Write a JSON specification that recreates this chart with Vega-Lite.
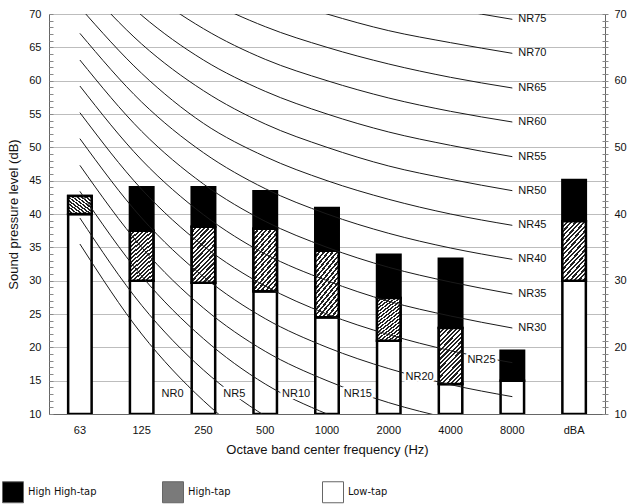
{
  "$schema": "https://vega.github.io/schema/vega-lite/v6.json",
  "width": 556,
  "height": 400,
  "autosize": {"type": "none"},
  "padding": {"left": 49, "top": 14, "right": 25, "bottom": 90},
  "background": "white",
  "config": {
    "font": "Liberation Sans",
    "view": {"stroke": null},
    "axis": {"labelFont": "Liberation Sans", "titleFont": "Liberation Sans", "labelColor": "#111111", "titleColor": "#111111"}
  },
  "datasets": {
    "bars": [
      {"band": "63", "tap": "Low-tap", "start": 10, "end": 40},
      {"band": "63", "tap": "High-tap", "start": 40, "end": 42.7},
      {"band": "125", "tap": "Low-tap", "start": 10, "end": 30},
      {"band": "125", "tap": "High-tap", "start": 30, "end": 37.5},
      {"band": "125", "tap": "High High-tap", "start": 37.5, "end": 44},
      {"band": "250", "tap": "Low-tap", "start": 10, "end": 29.7},
      {"band": "250", "tap": "High-tap", "start": 29.7, "end": 38.1},
      {"band": "250", "tap": "High High-tap", "start": 38.1, "end": 44},
      {"band": "500", "tap": "Low-tap", "start": 10, "end": 28.4},
      {"band": "500", "tap": "High-tap", "start": 28.4, "end": 37.8},
      {"band": "500", "tap": "High High-tap", "start": 37.8, "end": 43.4},
      {"band": "1000", "tap": "Low-tap", "start": 10, "end": 24.5},
      {"band": "1000", "tap": "High-tap", "start": 24.5, "end": 34.5},
      {"band": "1000", "tap": "High High-tap", "start": 34.5, "end": 40.9},
      {"band": "2000", "tap": "Low-tap", "start": 10, "end": 21},
      {"band": "2000", "tap": "High-tap", "start": 21, "end": 27.4},
      {"band": "2000", "tap": "High High-tap", "start": 27.4, "end": 33.9},
      {"band": "4000", "tap": "Low-tap", "start": 10, "end": 14.5},
      {"band": "4000", "tap": "High-tap", "start": 14.5, "end": 22.9},
      {"band": "4000", "tap": "High High-tap", "start": 22.9, "end": 33.3},
      {"band": "8000", "tap": "Low-tap", "start": 10, "end": 15},
      {"band": "8000", "tap": "High High-tap", "start": 15, "end": 19.5},
      {"band": "dBA", "tap": "Low-tap", "start": 10, "end": 30},
      {"band": "dBA", "tap": "High-tap", "start": 30, "end": 38.9},
      {"band": "dBA", "tap": "High High-tap", "start": 38.9, "end": 45.1}
    ],
    "nr": [
      {"nr": "NR0", "band": "63", "level": 35.5}, {"nr": "NR0", "band": "125", "level": 22.0}, {"nr": "NR0", "band": "250", "level": 12.0}, {"nr": "NR0", "band": "500", "level": 4.8}, {"nr": "NR0", "band": "1000", "level": 0.0}, {"nr": "NR0", "band": "2000", "level": -3.5}, {"nr": "NR0", "band": "4000", "level": -6.1}, {"nr": "NR0", "band": "8000", "level": -8.0},
      {"nr": "NR5", "band": "63", "level": 39.4}, {"nr": "NR5", "band": "125", "level": 26.3}, {"nr": "NR5", "band": "250", "level": 16.6}, {"nr": "NR5", "band": "500", "level": 9.7}, {"nr": "NR5", "band": "1000", "level": 5.0}, {"nr": "NR5", "band": "2000", "level": 1.6}, {"nr": "NR5", "band": "4000", "level": -1.0}, {"nr": "NR5", "band": "8000", "level": -2.8},
      {"nr": "NR10", "band": "63", "level": 43.4}, {"nr": "NR10", "band": "125", "level": 30.7}, {"nr": "NR10", "band": "250", "level": 21.3}, {"nr": "NR10", "band": "500", "level": 14.5}, {"nr": "NR10", "band": "1000", "level": 10.0}, {"nr": "NR10", "band": "2000", "level": 6.6}, {"nr": "NR10", "band": "4000", "level": 4.2}, {"nr": "NR10", "band": "8000", "level": 2.3},
      {"nr": "NR15", "band": "63", "level": 47.3}, {"nr": "NR15", "band": "125", "level": 35.0}, {"nr": "NR15", "band": "250", "level": 25.9}, {"nr": "NR15", "band": "500", "level": 19.4}, {"nr": "NR15", "band": "1000", "level": 15.0}, {"nr": "NR15", "band": "2000", "level": 11.7}, {"nr": "NR15", "band": "4000", "level": 9.3}, {"nr": "NR15", "band": "8000", "level": 7.4},
      {"nr": "NR20", "band": "63", "level": 51.3}, {"nr": "NR20", "band": "125", "level": 39.4}, {"nr": "NR20", "band": "250", "level": 30.6}, {"nr": "NR20", "band": "500", "level": 24.3}, {"nr": "NR20", "band": "1000", "level": 20.0}, {"nr": "NR20", "band": "2000", "level": 16.8}, {"nr": "NR20", "band": "4000", "level": 14.4}, {"nr": "NR20", "band": "8000", "level": 12.6},
      {"nr": "NR25", "band": "63", "level": 55.2}, {"nr": "NR25", "band": "125", "level": 43.7}, {"nr": "NR25", "band": "250", "level": 35.2}, {"nr": "NR25", "band": "500", "level": 29.2}, {"nr": "NR25", "band": "1000", "level": 25.0}, {"nr": "NR25", "band": "2000", "level": 21.9}, {"nr": "NR25", "band": "4000", "level": 19.5}, {"nr": "NR25", "band": "8000", "level": 17.7},
      {"nr": "NR30", "band": "63", "level": 59.2}, {"nr": "NR30", "band": "125", "level": 48.1}, {"nr": "NR30", "band": "250", "level": 39.9}, {"nr": "NR30", "band": "500", "level": 34.0}, {"nr": "NR30", "band": "1000", "level": 30.0}, {"nr": "NR30", "band": "2000", "level": 26.9}, {"nr": "NR30", "band": "4000", "level": 24.7}, {"nr": "NR30", "band": "8000", "level": 22.9},
      {"nr": "NR35", "band": "63", "level": 63.1}, {"nr": "NR35", "band": "125", "level": 52.4}, {"nr": "NR35", "band": "250", "level": 44.5}, {"nr": "NR35", "band": "500", "level": 38.9}, {"nr": "NR35", "band": "1000", "level": 35.0}, {"nr": "NR35", "band": "2000", "level": 32.0}, {"nr": "NR35", "band": "4000", "level": 29.8}, {"nr": "NR35", "band": "8000", "level": 28.0},
      {"nr": "NR40", "band": "63", "level": 67.1}, {"nr": "NR40", "band": "125", "level": 56.8}, {"nr": "NR40", "band": "250", "level": 49.2}, {"nr": "NR40", "band": "500", "level": 43.8}, {"nr": "NR40", "band": "1000", "level": 40.0}, {"nr": "NR40", "band": "2000", "level": 37.1}, {"nr": "NR40", "band": "4000", "level": 34.9}, {"nr": "NR40", "band": "8000", "level": 33.2},
      {"nr": "NR45", "band": "63", "level": 71.0}, {"nr": "NR45", "band": "125", "level": 61.1}, {"nr": "NR45", "band": "250", "level": 53.6}, {"nr": "NR45", "band": "500", "level": 48.6}, {"nr": "NR45", "band": "1000", "level": 45.0}, {"nr": "NR45", "band": "2000", "level": 42.2}, {"nr": "NR45", "band": "4000", "level": 40.0}, {"nr": "NR45", "band": "8000", "level": 38.3},
      {"nr": "NR50", "band": "63", "level": 75.0}, {"nr": "NR50", "band": "125", "level": 65.5}, {"nr": "NR50", "band": "250", "level": 58.5}, {"nr": "NR50", "band": "500", "level": 53.5}, {"nr": "NR50", "band": "1000", "level": 50.0}, {"nr": "NR50", "band": "2000", "level": 47.2}, {"nr": "NR50", "band": "4000", "level": 45.2}, {"nr": "NR50", "band": "8000", "level": 43.5},
      {"nr": "NR55", "band": "63", "level": 78.9}, {"nr": "NR55", "band": "125", "level": 69.8}, {"nr": "NR55", "band": "250", "level": 63.1}, {"nr": "NR55", "band": "500", "level": 58.4}, {"nr": "NR55", "band": "1000", "level": 55.0}, {"nr": "NR55", "band": "2000", "level": 52.3}, {"nr": "NR55", "band": "4000", "level": 50.3}, {"nr": "NR55", "band": "8000", "level": 48.6},
      {"nr": "NR60", "band": "63", "level": 82.9}, {"nr": "NR60", "band": "125", "level": 74.2}, {"nr": "NR60", "band": "250", "level": 67.8}, {"nr": "NR60", "band": "500", "level": 63.2}, {"nr": "NR60", "band": "1000", "level": 60.0}, {"nr": "NR60", "band": "2000", "level": 57.4}, {"nr": "NR60", "band": "4000", "level": 55.4}, {"nr": "NR60", "band": "8000", "level": 53.8},
      {"nr": "NR65", "band": "63", "level": 86.8}, {"nr": "NR65", "band": "125", "level": 78.5}, {"nr": "NR65", "band": "250", "level": 72.4}, {"nr": "NR65", "band": "500", "level": 68.1}, {"nr": "NR65", "band": "1000", "level": 65.0}, {"nr": "NR65", "band": "2000", "level": 62.5}, {"nr": "NR65", "band": "4000", "level": 60.5}, {"nr": "NR65", "band": "8000", "level": 58.9},
      {"nr": "NR70", "band": "63", "level": 90.8}, {"nr": "NR70", "band": "125", "level": 82.9}, {"nr": "NR70", "band": "250", "level": 77.1}, {"nr": "NR70", "band": "500", "level": 73.0}, {"nr": "NR70", "band": "1000", "level": 70.0}, {"nr": "NR70", "band": "2000", "level": 67.5}, {"nr": "NR70", "band": "4000", "level": 65.7}, {"nr": "NR70", "band": "8000", "level": 64.1},
      {"nr": "NR75", "band": "63", "level": 94.7}, {"nr": "NR75", "band": "125", "level": 87.2}, {"nr": "NR75", "band": "250", "level": 81.7}, {"nr": "NR75", "band": "500", "level": 77.9}, {"nr": "NR75", "band": "1000", "level": 75.0}, {"nr": "NR75", "band": "2000", "level": 72.6}, {"nr": "NR75", "band": "4000", "level": 70.8}, {"nr": "NR75", "band": "8000", "level": 69.2}
    ],
    "lowLabels": [
      {"nr": "NR0", "band": "250", "level": 13.0},
      {"nr": "NR5", "band": "500", "level": 13.0},
      {"nr": "NR10", "band": "1000", "level": 13.0},
      {"nr": "NR15", "band": "2000", "level": 13.0},
      {"nr": "NR20", "band": "4000", "level": 15.6},
      {"nr": "NR25", "band": "8000", "level": 18.1}
    ],
    "endLabels": [
      {"nr": "NR30", "band": "8000", "level": 22.9},
      {"nr": "NR35", "band": "8000", "level": 28.0},
      {"nr": "NR40", "band": "8000", "level": 33.2},
      {"nr": "NR45", "band": "8000", "level": 38.3},
      {"nr": "NR50", "band": "8000", "level": 43.5},
      {"nr": "NR55", "band": "8000", "level": 48.6},
      {"nr": "NR60", "band": "8000", "level": 53.8},
      {"nr": "NR65", "band": "8000", "level": 58.9},
      {"nr": "NR70", "band": "8000", "level": 64.1},
      {"nr": "NR75", "band": "8000", "level": 69.2}
    ]
  },
  "layer": [
    {
      "data": {"name": "bars"},
      "mark": {"type": "bar", "stroke": "#000000", "strokeWidth": 2.5, "clip": true},
      "encoding": {
        "x": {
          "field": "band", "type": "nominal",
          "scale": {"domain": ["63", "125", "250", "500", "1000", "2000", "4000", "8000", "dBA"], "paddingInner": 0.62, "paddingOuter": 0.31},
          "axis": {"orient": "bottom", "title": "Octave band center frequency (Hz)", "ticks": false, "labelPadding": 10, "labelAngle": 0, "labelFontSize": 11, "domainColor": "#666666", "titleFontSize": 13, "titleFontWeight": "normal", "titlePadding": 8, "grid": false}
        },
        "y": {
          "field": "end", "type": "quantitative",
          "scale": {"domain": [10, 70], "nice": false, "zero": false},
          "axis": {"orient": "left", "values": [10, 15, 20, 25, 30, 35, 40, 45, 50, 55, 60, 65, 70], "title": "Sound pressure level (dB)", "grid": true, "gridColor": "#bdbdbd", "gridWidth": 1, "ticks": false, "labelPadding": 8, "labelFontSize": 11, "labelFlush": false, "domainColor": "#666666", "titleFontSize": 13, "titleFontWeight": "normal", "titlePadding": 8}
        },
        "y2": {"field": "start"},
        "fill": {
          "field": "tap", "type": "nominal",
          "scale": {"domain": ["High High-tap", "High-tap", "Low-tap"], "range": ["#000000", "#7a7a7a", "#ffffff"]},
          "legend": {"title": null, "orient": "none", "legendX": -47, "legendY": 467, "direction": "horizontal", "columns": 3, "gridAlign": "all", "columnPadding": 63, "symbolType": "square", "symbolSize": 441, "symbolStrokeColor": "#666666", "symbolStrokeWidth": 1, "labelOffset": 4, "labelFontSize": 11, "labelFont": "Liberation Sans Narrow, DejaVu Sans Condensed, Liberation Sans", "labelColor": "#111111", "padding": 0}
        }
      }
    },
    {
      "data": {"name": "bars"},
      "transform": [{"filter": "datum.tap === 'High-tap'"}],
      "mark": {
        "type": "bar", "stroke": "#000000", "strokeWidth": 2.5, "clip": true,
        "fill": {
          "gradient": "linear", "x1": 0, "y1": 0, "x2": 0.52, "y2": 1.21,
          "stops": [
            {"offset": 0, "color": "#222222"}, {"offset": 0.0278, "color": "#222222"}, {"offset": 0.0278, "color": "#ffffff"}, {"offset": 0.0556, "color": "#ffffff"},
            {"offset": 0.0556, "color": "#222222"}, {"offset": 0.0833, "color": "#222222"}, {"offset": 0.0833, "color": "#ffffff"}, {"offset": 0.1111, "color": "#ffffff"},
            {"offset": 0.1111, "color": "#222222"}, {"offset": 0.1389, "color": "#222222"}, {"offset": 0.1389, "color": "#ffffff"}, {"offset": 0.1667, "color": "#ffffff"},
            {"offset": 0.1667, "color": "#222222"}, {"offset": 0.1944, "color": "#222222"}, {"offset": 0.1944, "color": "#ffffff"}, {"offset": 0.2222, "color": "#ffffff"},
            {"offset": 0.2222, "color": "#222222"}, {"offset": 0.25, "color": "#222222"}, {"offset": 0.25, "color": "#ffffff"}, {"offset": 0.2778, "color": "#ffffff"},
            {"offset": 0.2778, "color": "#222222"}, {"offset": 0.3056, "color": "#222222"}, {"offset": 0.3056, "color": "#ffffff"}, {"offset": 0.3333, "color": "#ffffff"},
            {"offset": 0.3333, "color": "#222222"}, {"offset": 0.3611, "color": "#222222"}, {"offset": 0.3611, "color": "#ffffff"}, {"offset": 0.3889, "color": "#ffffff"},
            {"offset": 0.3889, "color": "#222222"}, {"offset": 0.4167, "color": "#222222"}, {"offset": 0.4167, "color": "#ffffff"}, {"offset": 0.4444, "color": "#ffffff"},
            {"offset": 0.4444, "color": "#222222"}, {"offset": 0.4722, "color": "#222222"}, {"offset": 0.4722, "color": "#ffffff"}, {"offset": 0.5, "color": "#ffffff"},
            {"offset": 0.5, "color": "#222222"}, {"offset": 0.5278, "color": "#222222"}, {"offset": 0.5278, "color": "#ffffff"}, {"offset": 0.5556, "color": "#ffffff"},
            {"offset": 0.5556, "color": "#222222"}, {"offset": 0.5833, "color": "#222222"}, {"offset": 0.5833, "color": "#ffffff"}, {"offset": 0.6111, "color": "#ffffff"},
            {"offset": 0.6111, "color": "#222222"}, {"offset": 0.6389, "color": "#222222"}, {"offset": 0.6389, "color": "#ffffff"}, {"offset": 0.6667, "color": "#ffffff"},
            {"offset": 0.6667, "color": "#222222"}, {"offset": 0.6944, "color": "#222222"}, {"offset": 0.6944, "color": "#ffffff"}, {"offset": 0.7222, "color": "#ffffff"},
            {"offset": 0.7222, "color": "#222222"}, {"offset": 0.75, "color": "#222222"}, {"offset": 0.75, "color": "#ffffff"}, {"offset": 0.7778, "color": "#ffffff"},
            {"offset": 0.7778, "color": "#222222"}, {"offset": 0.8056, "color": "#222222"}, {"offset": 0.8056, "color": "#ffffff"}, {"offset": 0.8333, "color": "#ffffff"},
            {"offset": 0.8333, "color": "#222222"}, {"offset": 0.8611, "color": "#222222"}, {"offset": 0.8611, "color": "#ffffff"}, {"offset": 0.8889, "color": "#ffffff"},
            {"offset": 0.8889, "color": "#222222"}, {"offset": 0.9167, "color": "#222222"}, {"offset": 0.9167, "color": "#ffffff"}, {"offset": 0.9444, "color": "#ffffff"},
            {"offset": 0.9444, "color": "#222222"}, {"offset": 0.9722, "color": "#222222"}, {"offset": 0.9722, "color": "#ffffff"}, {"offset": 1, "color": "#ffffff"}
          ]
        }
      },
      "encoding": {
        "x": {"field": "band", "type": "nominal", "scale": {"domain": ["63", "125", "250", "500", "1000", "2000", "4000", "8000", "dBA"]}, "axis": null},
        "y": {
          "field": "end", "type": "quantitative",
          "scale": {"domain": [10, 70], "nice": false, "zero": false},
          "axis": {"orient": "left", "values": [10,11,12,13,14,15,16,17,18,19,20,21,22,23,24,25,26,27,28,29,30,31,32,33,34,35,36,37,38,39,40,41,42,43,44,45,46,47,48,49,50,51,52,53,54,55,56,57,58,59,60,61,62,63,64,65,66,67,68,69,70], "labels": false, "domain": false, "grid": false, "ticks": true, "tickSize": 4, "offset": -4, "tickColor": "#888888", "title": null}
        },
        "y2": {"field": "start"}
      }
    },
    {
      "data": {"name": "nr"},
      "mark": {"type": "line", "color": "#1a1a1a", "strokeWidth": 1, "interpolate": "monotone", "clip": true},
      "encoding": {
        "x": {"field": "band", "type": "nominal", "scale": {"domain": ["63", "125", "250", "500", "1000", "2000", "4000", "8000", "dBA"]}, "axis": null},
        "y": {
          "field": "level", "type": "quantitative",
          "scale": {"domain": [10, 70], "nice": false, "zero": false},
          "axis": {"orient": "right", "values": [10, 20, 30, 40, 50, 60, 70], "grid": false, "ticks": false, "labelPadding": 9, "labelFontSize": 11, "labelFlush": false, "domainColor": "#666666", "title": null}
        },
        "detail": {"field": "nr", "type": "nominal"},
        "order": {"value": null}
      }
    },
    {
      "data": {"name": "lowLabels"},
      "mark": {"type": "text", "align": "center", "baseline": "middle", "fontSize": 11, "color": "#ffffff", "stroke": "#ffffff", "strokeWidth": 5, "strokeJoin": "round"},
      "encoding": {
        "x": {"field": "band", "type": "nominal", "bandPosition": -0.816, "scale": {"domain": ["63", "125", "250", "500", "1000", "2000", "4000", "8000", "dBA"]}, "axis": null},
        "y": {
          "field": "level", "type": "quantitative",
          "scale": {"domain": [10, 70], "nice": false, "zero": false},
          "axis": {"orient": "right", "values": [10,11,12,13,14,15,16,17,18,19,20,21,22,23,24,25,26,27,28,29,30,31,32,33,34,35,36,37,38,39,40,41,42,43,44,45,46,47,48,49,50,51,52,53,54,55,56,57,58,59,60,61,62,63,64,65,66,67,68,69,70], "labels": false, "domain": false, "grid": false, "ticks": true, "tickSize": 6, "offset": -3, "tickColor": "#888888", "title": null}
        },
        "text": {"field": "nr", "type": "nominal"}
      }
    },
    {
      "data": {"name": "lowLabels"},
      "mark": {"type": "text", "align": "center", "baseline": "middle", "fontSize": 11, "color": "#111111"},
      "encoding": {
        "x": {"field": "band", "type": "nominal", "bandPosition": -0.816, "scale": {"domain": ["63", "125", "250", "500", "1000", "2000", "4000", "8000", "dBA"]}, "axis": null},
        "y": {"field": "level", "type": "quantitative", "scale": {"domain": [10, 70], "nice": false, "zero": false}, "axis": null},
        "text": {"field": "nr", "type": "nominal"}
      }
    },
    {
      "data": {"name": "endLabels"},
      "mark": {"type": "text", "align": "left", "baseline": "middle", "dx": 6, "fontSize": 11, "color": "#111111"},
      "encoding": {
        "x": {"field": "band", "type": "nominal", "bandPosition": 0.5, "scale": {"domain": ["63", "125", "250", "500", "1000", "2000", "4000", "8000", "dBA"]}, "axis": null},
        "y": {"field": "level", "type": "quantitative", "scale": {"domain": [10, 70], "nice": false, "zero": false}, "axis": null},
        "text": {"field": "nr", "type": "nominal"}
      }
    }
  ],
  "resolve": {"axis": {"x": "independent", "y": "independent"}}
}
